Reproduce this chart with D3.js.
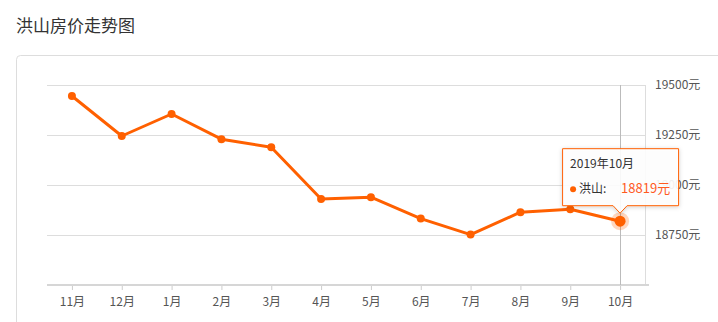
<!DOCTYPE html>
<html>
<head>
<meta charset="utf-8">
<script src="https://cdn.jsdelivr.net/npm/d3@7"></script>
<style>
	body { margin: 0; background: #fff; font-family: "Microsoft YaHei", "Noto Sans CJK SC", sans-serif; }
	svg { display: block; }
</style>
</head>
<body>
<svg id="chart"></svg>
<script>
const chartSize = { width: 718, height: 322 };
const margin = { left: 47, right: 73, top: 85, bottom: 37 };
const width = chartSize.width - margin.left - margin.right;
const height = chartSize.height - margin.top - margin.bottom;

const months = ["11月", "12月", "1月", "2月", "3月", "4月", "5月", "6月", "7月", "8月", "9月", "10月"];
const prices = [19445, 19245, 19355, 19229, 19189, 18930, 18939, 18832, 18752, 18864, 18879, 18819];
const yTicks = [18500, 18750, 19000, 19250, 19500];
const title = "洪山房价走势图";
const seriesName = "洪山";
const tooltipDate = "2019年10月";
const activeIndex = 11;

const orange = "#ff6000";
const font = "'Microsoft YaHei', 'Noto Sans CJK SC', sans-serif";

const svg = d3.select("#chart")
	.attr("width", chartSize.width)
	.attr("height", chartSize.height);

svg.append("text")
	.attr("x", 16)
	.attr("y", 32)
	.attr("font-size", 17)
	.attr("fill", "#333")
	.attr("font-family", font)
	.text(title);

// card
svg.append("rect")
	.attr("x", 16.5)
	.attr("y", 55.5)
	.attr("width", 720)
	.attr("height", 300)
	.attr("rx", 4)
	.attr("fill", "none")
	.attr("stroke", "#ddd");

const g = svg.append("g").attr("transform", `translate(${margin.left},${margin.top})`);

const x = d3.scalePoint().domain(months).range([0, width]).padding(0.5);
const y = d3.scaleLinear().domain([18500, 19500]).range([height, 0]);

// grid
g.append("g")
	.selectAll("line")
	.data(yTicks.slice(1))
	.join("line")
	.attr("x1", 0)
	.attr("x2", width)
	.attr("y1", d => Math.round(y(d)) + 0.5)
	.attr("y2", d => Math.round(y(d)) + 0.5)
	.attr("stroke", "#ddd");

// right axis line
g.append("line")
	.attr("x1", width + 0.5)
	.attr("x2", width + 0.5)
	.attr("y1", 0)
	.attr("y2", height)
	.attr("stroke", "#ddd");

// y labels
g.append("g")
	.selectAll("text")
	.data(yTicks.slice(1))
	.join("text")
	.attr("x", width + 10)
	.attr("y", d => y(d) + 4)
	.attr("font-size", 12)
	.attr("fill", "#555")
	.attr("font-family", font)
	.text(d => `${d}元`);

// x axis
const xAxis = d3.axisBottom(x).tickSize(4).tickPadding(8);
const xg = g.append("g").attr("transform", `translate(0,${height})`).call(xAxis);
xg.select(".domain").attr("stroke", "#d6d6d6").attr("stroke-width", 2).attr("d", `M0,0H${width + 4}`);
xg.selectAll(".tick line").attr("stroke", "#ccc").attr("transform", "translate(0,1)");
xg.selectAll(".tick text")
	.attr("font-size", 12)
	.attr("fill", "#555")
	.attr("font-family", font);

// crosshair
g.append("line")
	.attr("x1", Math.round(x(months[activeIndex])) + 0.5)
	.attr("x2", Math.round(x(months[activeIndex])) + 0.5)
	.attr("y1", 0)
	.attr("y2", height)
	.attr("stroke", "#bbb");

const data = months.map((m, i) => ({ month: m, price: prices[i] }));

const line = d3.line()
	.x(d => x(d.month))
	.y(d => y(d.price));

g.append("path")
	.attr("d", line(data))
	.attr("fill", "none")
	.attr("stroke", orange)
	.attr("stroke-width", 3)
	.attr("stroke-linejoin", "round");

g.append("g")
	.selectAll("circle")
	.data(data)
	.join("circle")
	.attr("cx", d => x(d.month))
	.attr("cy", d => y(d.price))
	.attr("r", 4)
	.attr("fill", orange);

const active = data[activeIndex];
g.append("circle")
	.attr("cx", x(active.month))
	.attr("cy", y(active.price))
	.attr("r", 9)
	.attr("fill", orange)
	.attr("opacity", 0.25);
g.append("circle")
	.attr("cx", x(active.month))
	.attr("cy", y(active.price))
	.attr("r", 5.5)
	.attr("fill", orange);

// tooltip
const tx = x(active.month);
const ty = y(active.price);
const tipW = 117, tipH = 58;
const tipLeft = tx - 58, tipBottom = ty - 15;
const tip = g.append("g").attr("transform", `translate(${tipLeft},${tipBottom - tipH})`);

const defs = svg.append("defs");
const filter = defs.append("filter").attr("id", "shadow").attr("x", "-20%").attr("y", "-20%").attr("width", "140%").attr("height", "150%");
filter.append("feDropShadow").attr("dx", 0).attr("dy", 1).attr("stdDeviation", 2).attr("flood-color", "#000").attr("flood-opacity", 0.2);

tip.append("path")
	.attr("d", `M0.5,0.5H${tipW - 0.5}V${tipH - 0.5}H${tx - tipLeft + 7}L${tx - tipLeft},${tipH + 7}L${tx - tipLeft - 7},${tipH - 0.5}H0.5Z`)
	.attr("fill", "rgba(255,255,255,0.9)")
	.attr("stroke", orange)
	.attr("filter", "url(#shadow)");

tip.append("text")
	.attr("x", 8)
	.attr("y", 20)
	.attr("font-size", 12)
	.attr("fill", "#333")
	.attr("font-family", font)
	.text(tooltipDate);

tip.append("circle")
	.attr("cx", 11)
	.attr("cy", 41)
	.attr("r", 3)
	.attr("fill", orange);

tip.append("text")
	.attr("x", 17)
	.attr("y", 45)
	.attr("font-size", 12)
	.attr("fill", "#333")
	.attr("font-family", font)
	.text(`${seriesName}:`);

tip.append("text")
	.attr("x", 59)
	.attr("y", 45)
	.attr("font-size", 13)
	.attr("fill", "#ff5a1f")
	.attr("font-family", font)
	.text(`${active.price}元`);
</script>
</body>
</html>
